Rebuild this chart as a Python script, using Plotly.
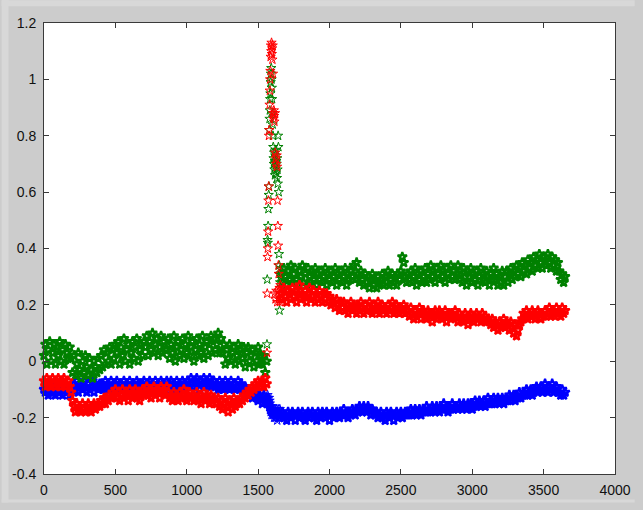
import plotly.graph_objects as go

# Sample positions: coarse before and after the transient, fine through it.
x_left = list(range(0, 1561, 10))
x_spike = list(range(1562, 1659, 2))
x_right = list(range(1660, 3651, 10))

blue_left = [
    -0.10, -0.11, -0.09, -0.12, -0.10, -0.11, -0.09, -0.11, -0.12, -0.10, -0.09, -0.11, -0.10, -0.12, -0.09, -0.10, -0.11, -0.10, -0.12, -0.09, -0.10,
    -0.08, -0.10, -0.07, -0.11, -0.09, -0.08, -0.10, -0.07, -0.09, -0.11, -0.08, -0.10, -0.09, -0.07, -0.11, -0.08, -0.09, -0.10, -0.08, -0.09,
    -0.08, -0.10, -0.07, -0.09, -0.08, -0.10, -0.07, -0.09, -0.10, -0.08,
    -0.07, -0.09, -0.10, -0.08, -0.09, -0.07, -0.10, -0.08, -0.09, -0.07,
    -0.10, -0.08, -0.09, -0.10, -0.07, -0.08, -0.09, -0.10, -0.08, -0.07,
    -0.09, -0.10, -0.08, -0.07, -0.09, -0.08, -0.10, -0.07, -0.09, -0.08,
    -0.10, -0.07, -0.08, -0.09, -0.10, -0.07, -0.09, -0.08, -0.07, -0.10,
    -0.08, -0.09, -0.07, -0.10, -0.08, -0.09, -0.07, -0.08, -0.10, -0.09,
    -0.07, -0.09, -0.06, -0.08, -0.09, -0.07, -0.06, -0.08, -0.10, -0.07, -0.08, -0.06, -0.09, -0.07, -0.08, -0.06, -0.09, -0.08, -0.07, -0.09,
    -0.08, -0.10, -0.07, -0.09, -0.08, -0.10, -0.07, -0.09, -0.08, -0.10, -0.07, -0.09, -0.08, -0.10, -0.09, -0.07, -0.10, -0.08, -0.09,
    -0.10, -0.09, -0.11, -0.10, -0.12, -0.11, -0.13, -0.12, -0.11, -0.13, -0.14, -0.12, -0.13, -0.15, -0.12, -0.14, -0.13,
]
blue_spike = [
    -0.13, -0.14, -0.12, -0.15, -0.13, -0.14, -0.15, -0.13, -0.16, -0.14,
    -0.15, -0.17, -0.16, -0.18, -0.16, -0.17, -0.19, -0.17, -0.18, -0.16,
    -0.19, -0.18, -0.17, -0.19, -0.18, -0.20, -0.17, -0.19, -0.18, -0.20,
    -0.18, -0.19, -0.17, -0.20, -0.18, -0.19, -0.21, -0.18, -0.19, -0.17,
    -0.20, -0.19, -0.18, -0.20, -0.19, -0.17, -0.20, -0.18, -0.19,
]
blue_right = [
    -0.19, -0.18, -0.20, -0.19, -0.21, -0.18, -0.19, -0.20, -0.18, -0.19,
    -0.21, -0.19, -0.18, -0.20, -0.19, -0.18, -0.20, -0.21, -0.19, -0.18,
    -0.20, -0.19, -0.18, -0.20, -0.19, -0.21, -0.18, -0.19, -0.20, -0.18,
    -0.19, -0.20, -0.18, -0.19, -0.21, -0.19, -0.18, -0.20, -0.19, -0.18,
    -0.19, -0.20, -0.18, -0.19, -0.17, -0.19, -0.18, -0.20, -0.18, -0.19,
    -0.17, -0.18, -0.19, -0.17,
    -0.18, -0.16, -0.17, -0.18, -0.16, -0.17, -0.18, -0.16, -0.17, -0.19, -0.17, -0.18,
    -0.19, -0.18, -0.20, -0.19, -0.18, -0.20, -0.19, -0.21, -0.18, -0.19, -0.20, -0.18, -0.19, -0.21, -0.19, -0.18, -0.20, -0.19, -0.18, -0.20, -0.19, -0.18, -0.19,
    -0.18, -0.19, -0.17, -0.19, -0.18, -0.17, -0.19, -0.18, -0.17, -0.19,
    -0.18, -0.17, -0.18, -0.16, -0.18, -0.17, -0.18, -0.16, -0.17, -0.18,
    -0.16, -0.17, -0.18, -0.16, -0.17, -0.15, -0.17, -0.16, -0.18, -0.16,
    -0.17, -0.15, -0.17, -0.16,
    -0.16, -0.17, -0.15, -0.16, -0.17, -0.15, -0.16, -0.17, -0.15, -0.16,
    -0.15, -0.17, -0.16, -0.14, -0.16, -0.15, -0.14, -0.16, -0.15, -0.14,
    -0.16, -0.15, -0.13, -0.15, -0.14, -0.15, -0.13, -0.15, -0.14, -0.13,
    -0.15, -0.14,
    -0.13, -0.15, -0.14, -0.13, -0.14, -0.12, -0.14, -0.13, -0.12, -0.14,
    -0.12, -0.13, -0.11, -0.13, -0.12, -0.11, -0.12, -0.10, -0.12, -0.11,
    -0.10, -0.12, -0.11,
    -0.10, -0.09, -0.11, -0.10, -0.09, -0.11, -0.10, -0.08, -0.10, -0.11, -0.09, -0.10, -0.08, -0.11, -0.10, -0.09, -0.11,
    -0.11, -0.12, -0.10, -0.12, -0.11,
]

red_left = [
    -0.07, -0.09, -0.06, -0.08, -0.07, -0.09, -0.06, -0.08, -0.09, -0.07, -0.06, -0.08, -0.09, -0.07, -0.06, -0.09, -0.08, -0.07, -0.09,
    -0.11, -0.14,
    -0.16, -0.18, -0.15, -0.17, -0.16, -0.18, -0.15, -0.17, -0.18, -0.16, -0.15, -0.17, -0.18, -0.16, -0.15, -0.17, -0.16,
    -0.15, -0.16, -0.14, -0.15, -0.13, -0.15, -0.13, -0.14, -0.12, -0.13, -0.11,
    -0.12, -0.10, -0.13, -0.11, -0.14, -0.12, -0.10, -0.13, -0.11, -0.12, -0.14, -0.10, -0.12, -0.13, -0.11, -0.10, -0.13, -0.12, -0.14, -0.11, -0.10, -0.12,
    -0.11, -0.09, -0.12, -0.10, -0.13, -0.11, -0.09, -0.12, -0.10, -0.11, -0.13, -0.09, -0.11, -0.10, -0.12, -0.09, -0.11, -0.13,
    -0.12, -0.14, -0.11, -0.13, -0.12, -0.14, -0.11, -0.13, -0.12, -0.10, -0.13, -0.14, -0.12, -0.11, -0.13, -0.12, -0.14,
    -0.13, -0.11, -0.14, -0.12, -0.15, -0.13, -0.11, -0.14, -0.12, -0.13, -0.15, -0.12, -0.14, -0.13, -0.15,
    -0.15, -0.13, -0.16, -0.14, -0.17, -0.15, -0.13, -0.16, -0.18, -0.14, -0.15, -0.17, -0.13, -0.16, -0.15,
    -0.14, -0.15, -0.13, -0.14, -0.12, -0.13, -0.11, -0.12, -0.10, -0.11, -0.09, -0.10, -0.08, -0.09, -0.07, -0.09, -0.08,
    -0.07, -0.09, -0.06, -0.08,
]
red_spike = [
    0.03, 0.24, 0.37, 0.40, 0.46, 0.57, 0.62, 0.80, 0.82, 0.91,
    0.96, 1.00, 1.03, 1.08, 1.12, 1.10, 1.13, 1.09, 1.11, 1.07,
    1.12, 1.02, 0.88, 0.86, 0.89, 0.87, 0.85, 0.24, 0.88, 0.74,
    0.22, 0.72, 0.70, 0.25, 0.73, 0.69, 0.21, 0.57, 0.48, 0.41,
    0.34, 0.31, 0.25, 0.22, 0.26, 0.21, 0.24, 0.27, 0.22,
]
red_right = [
    0.24, 0.22, 0.26, 0.23, 0.21, 0.25, 0.24, 0.22, 0.26, 0.23,
    0.25, 0.21, 0.24, 0.27, 0.22, 0.24, 0.23, 0.25, 0.21, 0.24,
    0.26, 0.22, 0.23, 0.25, 0.21, 0.24, 0.22, 0.25, 0.23, 0.21, 0.24,
    0.22, 0.24, 0.21, 0.23, 0.20, 0.22, 0.21, 0.19, 0.22, 0.20, 0.18, 0.21,
    0.19, 0.21, 0.18, 0.20, 0.17, 0.19, 0.21, 0.18, 0.20, 0.19, 0.17, 0.20, 0.18, 0.21, 0.19, 0.17, 0.20, 0.18, 0.19, 0.21,
    0.18, 0.17, 0.20, 0.19, 0.18, 0.21, 0.17, 0.19, 0.20, 0.18, 0.19, 0.17, 0.20, 0.18, 0.19, 0.21, 0.17, 0.18, 0.20, 0.19,
    0.17, 0.19, 0.18, 0.20, 0.17, 0.18,
    0.18, 0.16, 0.19, 0.17, 0.15, 0.18, 0.16, 0.17, 0.19, 0.15, 0.17, 0.18, 0.16, 0.15, 0.18, 0.17, 0.16, 0.14, 0.17, 0.18,
    0.15, 0.16, 0.18, 0.17, 0.15, 0.16, 0.18, 0.14, 0.16, 0.17, 0.15, 0.17, 0.16, 0.18,
    0.16, 0.14, 0.17, 0.15, 0.16, 0.14, 0.17, 0.15, 0.13, 0.16, 0.17, 0.15, 0.14, 0.16, 0.17, 0.15, 0.16, 0.14, 0.17, 0.15, 0.16, 0.14, 0.15,
    0.14, 0.13, 0.15, 0.12, 0.14, 0.13, 0.11, 0.14, 0.12, 0.13, 0.15, 0.12, 0.14, 0.13, 0.11, 0.14, 0.12, 0.10, 0.13, 0.09, 0.11, 0.13, 0.14,
    0.15, 0.17, 0.16, 0.18, 0.15, 0.17, 0.16, 0.18, 0.17, 0.15, 0.16, 0.18, 0.17, 0.15, 0.17, 0.16, 0.18, 0.16, 0.17, 0.19,
    0.16, 0.18, 0.17, 0.16, 0.19, 0.17, 0.18, 0.16, 0.19, 0.17, 0.18,
]

green_left = [
    0.02, 0.06, -0.01, 0.04, 0.07, 0.00, 0.03, 0.06, -0.01, 0.05, 0.02, 0.07, 0.00, 0.04, -0.01, 0.06, 0.03, 0.01, 0.05,
    0.01, -0.04, 0.02, -0.05, -0.01, 0.03, -0.03, -0.06, 0.00, -0.04, 0.02, -0.02, -0.05, 0.01, -0.03, -0.06, 0.00, -0.02, -0.04,
    0.01, -0.03, 0.02, -0.02, 0.04, -0.01, 0.03, 0.00, 0.05, -0.01, 0.04, 0.01, 0.06,
    0.03, 0.07, -0.01, 0.05, 0.02, 0.08, 0.00, 0.04, 0.06, -0.01, 0.03, 0.07, 0.01, 0.05, 0.08, 0.00, 0.04, 0.06, 0.02, 0.07,
    0.05, 0.09, 0.02, 0.07, 0.04, 0.10, 0.03, 0.06, 0.08, 0.02, 0.05, 0.09, 0.03, 0.07, 0.04,
    0.04, 0.08, 0.01, 0.06, 0.03, 0.09, 0.00, 0.05, 0.07, 0.02, 0.04, 0.08, 0.01, 0.06, 0.03, 0.09, 0.02, 0.05, 0.07, 0.00,
    0.04, 0.08, 0.02, 0.06, 0.03, 0.09, 0.01, 0.05, 0.07, 0.02, 0.06, 0.09, 0.03, 0.08, 0.04,
    0.06, 0.10, 0.03, 0.08,
    0.03, 0.06, -0.01, 0.04, 0.01, 0.06, 0.00, 0.03, 0.05, -0.01, 0.02, 0.06, 0.00, 0.04, 0.01, 0.05, -0.02, 0.03, 0.05, 0.00,
    0.02, 0.04, -0.02, 0.03, 0.00, 0.05, -0.01, 0.02,
    -0.01, 0.02, -0.04, 0.00,
]
green_spike = [
    0.06, 0.29, 0.43, 0.42, 0.48, 0.54, 0.59, 0.62, 0.82, 0.86,
    0.89, 0.93, 0.95, 0.99, 1.02, 1.04, 1.00, 0.97, 0.93, 0.88,
    0.84, 0.80, 0.76, 0.72, 0.70, 0.74, 0.68, 0.71, 0.66, 0.73,
    0.69, 0.75, 0.67, 0.71, 0.70, 0.65, 0.72, 0.68, 0.63, 0.80,
    0.76, 0.60, 0.38, 0.34, 0.18, 0.31, 0.28, 0.33, 0.30,
]
green_right = [
    0.31, 0.28, 0.33, 0.30, 0.27, 0.32, 0.29, 0.34, 0.28, 0.31,
    0.33, 0.29, 0.27, 0.32, 0.30, 0.34, 0.28, 0.31, 0.27, 0.33,
    0.30, 0.28, 0.32, 0.29, 0.33, 0.27, 0.31, 0.29, 0.32, 0.28,
    0.30, 0.33, 0.27, 0.31, 0.29, 0.32, 0.28, 0.30, 0.33, 0.27,
    0.31, 0.29, 0.32, 0.28, 0.30, 0.33, 0.27, 0.31, 0.29, 0.32,
    0.30, 0.34, 0.29, 0.35, 0.31, 0.28, 0.32, 0.29, 0.27, 0.31,
    0.28, 0.30, 0.26, 0.29, 0.31, 0.27, 0.29, 0.26, 0.30, 0.28,
    0.29, 0.31, 0.27, 0.30, 0.28, 0.32, 0.27, 0.29, 0.31, 0.28,
    0.30, 0.27, 0.31, 0.29, 0.32, 0.37, 0.35, 0.30, 0.28, 0.31,
    0.29, 0.32, 0.28, 0.30, 0.33, 0.27, 0.31, 0.29, 0.32, 0.28,
    0.30, 0.33, 0.28, 0.31, 0.29, 0.34, 0.30, 0.32, 0.28, 0.33,
    0.31, 0.29, 0.34, 0.30, 0.32, 0.28, 0.33, 0.31, 0.29, 0.34,
    0.30, 0.32, 0.29,
    0.31, 0.34, 0.29, 0.32, 0.28, 0.33, 0.30, 0.27, 0.32, 0.30, 0.33, 0.28, 0.31, 0.29, 0.32, 0.27, 0.30, 0.33, 0.29, 0.31,
    0.28, 0.32, 0.30, 0.27, 0.31, 0.29, 0.33,
    0.29, 0.31, 0.27, 0.30, 0.28, 0.32, 0.27,
    0.30, 0.32, 0.28, 0.31, 0.33, 0.29, 0.32, 0.30, 0.34, 0.31, 0.33, 0.30, 0.35, 0.32, 0.34, 0.31, 0.36, 0.33, 0.35, 0.32,
    0.37, 0.34, 0.36, 0.33, 0.38, 0.35, 0.33, 0.37,
    0.36, 0.34, 0.38, 0.35, 0.33, 0.37, 0.34, 0.36, 0.32, 0.35,
    0.32, 0.29, 0.31, 0.28, 0.30,
]

x_ticks = [0, 500, 1000, 1500, 2000, 2500, 3000, 3500, 4000]
x_tick_labels = ["0", "500", "1000", "1500", "2000", "2500", "3000", "3500", "4000"]
y_ticks = [-0.4, -0.2, 0, 0.2, 0.4, 0.6, 0.8, 1, 1.2]
y_tick_labels = ["-0.4", "-0.2", "0", "0.2", "0.4", "0.6", "0.8", "1", "1.2"]


def pair(xs, ys):
    n = min(len(xs), len(ys))
    return list(xs[:n]), list(ys[:n])


def series(left, spike, right):
    xl, yl = pair(x_left, left)
    xs, ys = pair(x_spike, spike)
    xr, yr = pair(x_right, right)
    # dense stretches overlap into solid bands; the sparse transient keeps thin outlines
    widths = [2.2] * len(xl) + [1.0] * len(xs) + [2.2] * len(xr)
    return xl + xs + xr, yl + ys + yr, widths


fig = go.Figure()
for name, parts, color in [
    ("blue", (blue_left, blue_spike, blue_right), "#0000ff"),
    ("green", (green_left, green_spike, green_right), "#008000"),
    ("red", (red_left, red_spike, red_right), "#ff0000"),
]:
    xs, ys, widths = series(*parts)
    fig.add_trace(go.Scatter(
        x=xs, y=ys, mode="markers", name=name, cliponaxis=False,
        marker=dict(symbol="star-open", size=7, color=color,
                    line=dict(color=color, width=widths)),
    ))

axis_font = dict(family="Liberation Sans, Arial, sans-serif", size=14, color="#111111")
common = dict(showgrid=False, zeroline=False, showline=True, linecolor="#3a3a3a",
              linewidth=1, mirror="ticks", ticks="inside", ticklen=5,
              tickcolor="#3a3a3a", tickfont=axis_font)

# Lighter window frame strips (left, top, bottom) around the grey figure area.
plot_w, plot_h = 580, 458
frame = "#d8d8d8"
shapes = [
    dict(type="rect", xref="paper", yref="paper", x0=-43 / plot_w, x1=-36 / plot_w,
         y0=-29 / plot_h, y1=481 / plot_h, fillcolor=frame, line=dict(width=0), layer="below"),
    dict(type="rect", xref="paper", yref="paper", x0=-43 / plot_w, x1=600 / plot_w,
         y0=475 / plot_h, y1=481 / plot_h, fillcolor=frame, line=dict(width=0), layer="below"),
    dict(type="rect", xref="paper", yref="paper", x0=-43 / plot_w, x1=600 / plot_w,
         y0=-29 / plot_h, y1=-26 / plot_h, fillcolor=frame, line=dict(width=0), layer="below"),
]

fig.update_layout(
    width=643, height=510,
    margin=dict(l=43, r=20, t=23, b=29),
    paper_bgcolor="#cccccc", plot_bgcolor="#ffffff",
    showlegend=False,
    shapes=shapes,
    xaxis=dict(range=[0, 4000], tickvals=x_ticks, ticktext=x_tick_labels, ticklabelstandoff=3, **common),
    yaxis=dict(range=[-0.4, 1.2], tickvals=y_ticks, ticktext=y_tick_labels, ticklabelstandoff=4, **common),
)

fig.write_html("out.html")
